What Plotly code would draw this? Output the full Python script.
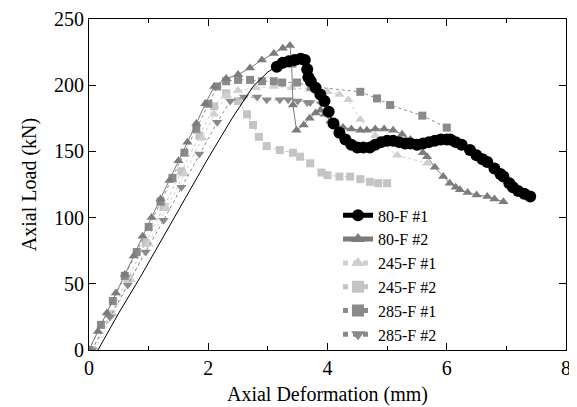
import plotly.graph_objects as go

# ---------------- data ----------------
s80_1_x = [0.15, 0.5, 0.86, 1.2, 1.6, 2.0, 2.4, 2.75, 3.0, 3.15, 3.25, 3.35, 3.45, 3.55, 3.62,
           3.66, 3.68, 3.72, 3.8, 3.88, 3.95, 4.02, 4.1, 4.2, 4.3, 4.4, 4.5, 4.6, 4.71, 4.8,
           4.9, 5.0, 5.1, 5.2, 5.3, 5.39, 5.5, 5.6, 5.7, 5.8, 5.9, 6.0, 6.06, 6.15, 6.25,
           6.39, 6.5, 6.6, 6.68, 6.8, 6.9, 6.95, 7.05, 7.11, 7.2, 7.3, 7.4]
s80_1_y = [0, 28, 55, 82, 114, 145, 175, 199, 210, 214, 217, 218, 219, 220, 219,
           212, 206, 203, 198, 193, 188, 180, 171, 164, 159, 155, 153, 153, 153, 155,
           157, 158, 158, 157, 156, 156, 155, 156, 157, 158, 159, 159, 159, 157, 155,
           151, 147, 144, 142, 137, 133, 131, 126, 123, 120, 118, 116]

s80_2_x = [0, 0.15, 0.3, 0.45, 0.6, 0.75, 0.9, 1.05, 1.2, 1.35, 1.5, 1.65, 1.8, 1.95, 2.1,
           2.3, 2.5, 2.7, 2.9, 3.1, 3.25, 3.37, 3.4, 3.42, 3.48, 3.6, 3.7, 3.8, 3.88, 3.95,
           4.05, 4.15, 4.26, 4.4, 4.55, 4.66, 4.8, 4.95, 5.1, 5.25, 5.39, 5.5, 5.6, 5.67,
           5.8, 5.94, 6.05, 6.15, 6.22, 6.35, 6.5, 6.68, 6.8, 6.95]
s80_2_y = [0, 14, 28, 43, 57, 71, 86, 100, 114, 128, 143, 157, 171, 186, 199,
           205, 208, 213, 219, 224, 228, 230, 215, 185, 166, 170, 175, 179, 181, 178,
           173, 170, 168, 167, 166, 166, 167, 167, 166, 163, 159, 154, 149, 146,
           138, 131, 126, 123, 121, 119, 117, 116, 114, 112]

s245_1_x = [0.1, 0.4, 0.7, 1.0, 1.3, 1.6, 1.9, 2.1, 2.3, 2.5, 2.8, 3.1, 3.4, 3.7, 4.0,
            4.2, 4.35, 4.55, 4.8, 4.93, 5.17, 5.67]
s245_1_y = [0, 27, 53, 80, 107, 133, 160, 178, 192, 196, 198, 199, 198, 197, 195,
            193, 189, 174, 162, 155, 147, 141]

s245_2_x = [0.05, 0.35, 0.65, 0.95, 1.25, 1.55, 1.85, 2.1, 2.3, 2.5, 2.65, 2.75, 2.85, 2.98,
            3.2, 3.42, 3.54, 3.71, 3.9, 4.0, 4.2, 4.38, 4.55, 4.71, 4.85, 5.0]
s245_2_y = [0, 27, 54, 81, 108, 135, 162, 184, 194, 188, 178, 170, 161, 154,
            151, 149, 146, 141, 134, 132, 131, 131, 129, 127, 126, 126]

s285_1_x = [0, 0.2, 0.4, 0.6, 0.8, 1.0, 1.2, 1.4, 1.6, 1.8, 2.0, 2.15, 2.3, 2.5, 2.7, 2.9,
            3.1, 3.24, 3.49, 3.72, 4.55, 4.83, 5.05, 5.59, 6.0]
s285_1_y = [0, 19, 37, 56, 74, 93, 112, 130, 149, 167, 186, 199, 203, 204, 204, 203,
            203, 202, 202, 199, 195, 190, 185, 177, 168]

s285_2_x = [0.05, 0.35, 0.65, 0.95, 1.25, 1.55, 1.85, 2.15, 2.37, 2.6, 2.82, 2.98, 3.2,
            3.34, 3.5, 3.66, 3.71, 3.9]
s285_2_y = [0, 25, 49, 74, 98, 123, 148, 172, 188, 191, 191, 189, 189,
            189, 188, 187, 187, 186]

x_ticks = [0, 2, 4, 6, 8]
y_ticks = [0, 50, 100, 150, 200, 250]

FONT = "Liberation Serif, Times New Roman, serif"

fig = go.Figure()

def add(name, xs, ys, color, symbol, msize, dash, rank, sizes=None):
    fig.add_trace(go.Scatter(
        x=xs, y=ys, name=name, mode="lines+markers",
        line=dict(color=color, width=1, dash=dash),
        marker=dict(symbol=symbol, color=color, opacity=1,
                    size=sizes if sizes is not None else msize,
                    line=dict(width=0, color=color)),
        legendrank=rank,
    ))

add("245-F #2", s245_2_x, s245_2_y, "#c4c4c4", "square", 8, "dot", 4)
add("245-F #1", s245_1_x, s245_1_y, "#cfcfcf", "triangle-up", 9, "dot", 3)
add("285-F #1", s285_1_x, s285_1_y, "#8a8a8a", "square", 8, "dot", 5)
add("285-F #2", s285_2_x, s285_2_y, "#8a8a8a", "triangle-down", 9, "dot", 6)
add("80-F #2", s80_2_x, s80_2_y, "#7c7c7c", "triangle-up", 9, "solid", 2)
sizes_80_1 = [0 if xv < 3.1 else 12 for xv in s80_1_x]
add("80-F #1", s80_1_x, s80_1_y, "#000000", "circle", 12, "solid", 1, sizes_80_1)

axis_common = dict(
    showline=True, linecolor="black", linewidth=1, mirror="allticks",
    ticks="inside", ticklen=7, tickcolor="black", tickwidth=1,
    showgrid=False, zeroline=False, automargin=False,
    tickfont=dict(family=FONT, size=20, color="black"),
)

fig.update_xaxes(
    range=[0, 8], tickvals=x_ticks, ticktext=[str(v) for v in x_ticks],
    minor=dict(ticks="inside", ticklen=4, dtick=1, tick0=0, tickcolor="black", showgrid=False),
    title=dict(text="Axial Deformation (mm)", font=dict(family=FONT, size=20, color="black"), standoff=8),
    **axis_common,
)
fig.update_yaxes(
    range=[0, 250], tickvals=y_ticks, ticktext=[str(v) for v in y_ticks],
    title=dict(text="Axial Load (kN)", font=dict(family=FONT, size=20, color="black"), standoff=12),
    **axis_common,
)

# the page body has an 8px margin, so the figure is sized to fit the 577x407 window
fig.update_layout(
    width=569, height=399,
    margin=dict(l=81, r=11, t=11, b=57),
    paper_bgcolor="white", plot_bgcolor="white",
    font=dict(family=FONT, color="black"),
    legend=dict(
        x=0.522, y=0.458, xanchor="left", yanchor="top",
        bgcolor="rgba(0,0,0,0)", font=dict(family=FONT, size=16, color="black"),
        itemsizing="constant", tracegroupgap=0,
    ),
    showlegend=True,
)

fig.write_html("out.html")
